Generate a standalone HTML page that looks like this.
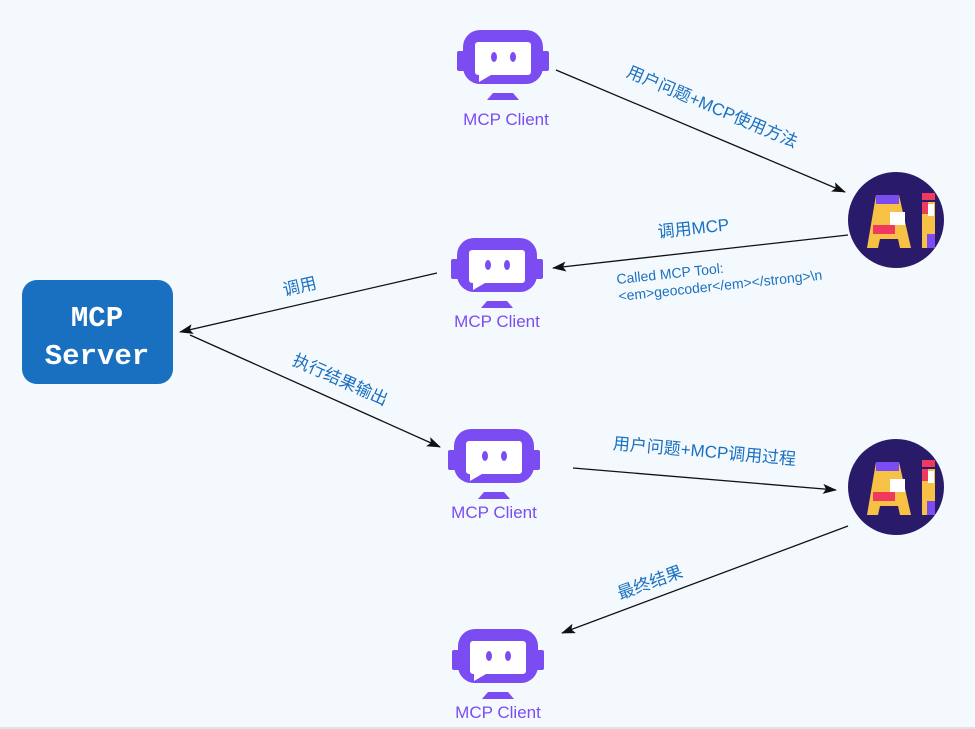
<!DOCTYPE html>
<html><head><meta charset="utf-8"><style>
html,body{margin:0;padding:0;background:#f4f9fd;}
svg{display:block}
.l{font-family:"Liberation Sans","Noto Sans CJK SC",sans-serif;font-size:17px;fill:#1a70c0}
.c{font-family:"Liberation Sans",sans-serif;font-size:17px;fill:#7b4cf2;text-anchor:middle}
</style></head><body>
<svg width="975" height="729" viewBox="0 0 975 729" xmlns="http://www.w3.org/2000/svg">
<defs>
<symbol id="bot" overflow="visible">
<rect x="-46" y="-6" width="8" height="20" rx="2" fill="#7b4cf2"/>
<rect x="38" y="-6" width="8" height="20" rx="2" fill="#7b4cf2"/>
<rect x="-40" y="-27" width="80" height="54" rx="17" fill="#7b4cf2"/>
<path d="M-25,-15 h50 a3,3 0 0 1 3,3 v27 a3,3 0 0 1 -3,3 h-37 l-12,7 v-7 h-1 a3,3 0 0 1 -3,-3 v-27 a3,3 0 0 1 3,-3z" fill="#fff"/>
<ellipse cx="-9" cy="0" rx="3" ry="5" fill="#7b4cf2"/>
<ellipse cx="10" cy="0" rx="3" ry="5" fill="#7b4cf2"/>
<path d="M-10,36 h20 l6,7 h-32z" fill="#7b4cf2"/>
</symbol>
<symbol id="ai" overflow="visible">
<circle cx="0" cy="0" r="48" fill="#2a1a6a"/>
<path d="M-20,-25 h23 l12,53 h-11 l-2,-9 h-18 l-2,9 h-11z" fill="#f6c144"/>
<rect x="-20" y="-25" width="23" height="9" fill="#7b4cf2"/>
<rect x="-6" y="-8" width="15" height="13" fill="#fff"/>
<rect x="-23" y="5" width="22" height="9" fill="#f0395f"/>
<rect x="26" y="-27" width="13" height="7" fill="#f0395f"/>
<rect x="26" y="-18" width="13" height="46" fill="#f6c144"/>
<rect x="26" y="-18" width="6" height="12" fill="#f0395f"/>
<rect x="32" y="-16" width="6" height="12" fill="#fff"/>
<rect x="31" y="14" width="8" height="14" fill="#7b4cf2"/>
</symbol>
<marker id="ar" markerWidth="14" markerHeight="10" refX="13" refY="5" orient="auto" markerUnits="userSpaceOnUse">
<path d="M0,0 L14,5 L0,10 L3,5z" fill="#111"/>
</marker>
</defs>

<rect x="22" y="280" width="151" height="104" rx="15" fill="#1a70c0"/>
<text x="97" y="326" text-anchor="middle" font-family="Liberation Mono,monospace" font-size="29" font-weight="bold" fill="#fff">MCP</text>
<text x="97" y="364" text-anchor="middle" font-family="Liberation Mono,monospace" font-size="29" font-weight="bold" fill="#fff">Server</text>

<use href="#bot" x="503" y="57"/><text class="c" x="506" y="125">MCP Client</text>
<use href="#bot" x="497" y="265"/><text class="c" x="497" y="327">MCP Client</text>
<use href="#bot" x="494" y="456"/><text class="c" x="494" y="518">MCP Client</text>
<use href="#bot" x="498" y="656"/><text class="c" x="498" y="718">MCP Client</text>

<use href="#ai" x="896" y="220"/>
<use href="#ai" x="896" y="487"/>

<g stroke="#111" stroke-width="1.3" fill="none" marker-end="url(#ar)">
<line x1="556" y1="70" x2="845" y2="192"/>
<line x1="848" y1="235" x2="553" y2="268"/>
<line x1="437" y1="273" x2="180" y2="332"/>
<line x1="190" y1="335" x2="440" y2="447"/>
<line x1="573" y1="468" x2="836" y2="490"/>
<line x1="848" y1="526" x2="562" y2="633"/>
</g>

<text class="l" transform="translate(710,112) rotate(23)" text-anchor="middle">用户问题+MCP使用方法</text>
<text class="l" transform="translate(694,234) rotate(-6)" text-anchor="middle">调用MCP</text>
<text class="l" style="font-size:14px" transform="translate(617,284) rotate(-6)">Called MCP Tool:</text>
<text class="l" style="font-size:14px" transform="translate(619,301) rotate(-6)">&lt;em&gt;geocoder&lt;/em&gt;&lt;/strong&gt;\n</text>
<text class="l" transform="translate(301,292) rotate(-13)" text-anchor="middle">调用</text>
<text class="l" transform="translate(338,385) rotate(24)" text-anchor="middle">执行结果输出</text>
<text class="l" transform="translate(704,457) rotate(5)" text-anchor="middle">用户问题+MCP调用过程</text>
<text class="l" transform="translate(652,588) rotate(-20)" text-anchor="middle">最终结果</text>
<line x1="0" y1="728" x2="975" y2="728" stroke="#ccc"/>
</svg>
</body></html>
